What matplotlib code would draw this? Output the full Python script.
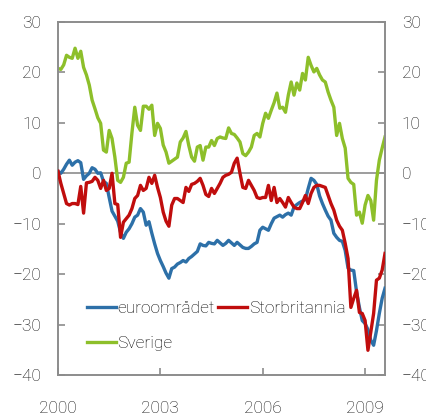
import numpy as np
import matplotlib.pyplot as plt

# monthly values, Jan 2000 onwards
euro = [0.4, 0.0, 0.8, 1.8, 2.6, 1.6, 2.2, 2.5, 2.1, -1.2,
        -0.5, 0.0, 1.1, 0.8, 0.0, 0.1, -1.6, -2.0, -4.8, -7.5,
        -8.5, -9.5, -11.7, -12.9, -11.7, -11.0, -10.0, -8.7, -8.3, -7.0,
        -7.7, -10.3, -9.6, -11.9, -14.0, -15.9, -17.3, -18.5, -19.8, -20.8,
        -18.9, -18.6, -18.0, -17.7, -17.3, -17.6, -16.9, -16.5, -16.0, -15.5,
        -14.0, -14.3, -14.4, -13.7, -13.9, -14.0, -13.3, -13.8, -14.3, -13.9,
        -13.3, -13.8, -14.3, -13.7, -14.2, -14.7, -14.9, -14.9, -14.5, -14.0,
        -13.7, -11.3, -10.7, -11.0, -11.3, -10.0, -8.9, -8.6, -8.3, -8.7,
        -8.2, -7.9, -8.3, -6.7, -6.2, -5.8, -5.5, -5.2, -3.0, -1.0,
        -1.4, -2.2, -4.5, -6.0, -7.3, -8.5, -9.3, -11.9, -12.7, -13.3,
        -13.5, -15.3, -18.8, -19.2, -19.3, -23.5, -26.6, -29.2, -29.8, -31.0,
        -33.1, -34.1, -31.2, -27.8, -24.8, -22.8]

uk = [0.4, -2.0, -4.0, -6.0, -6.3, -6.0, -6.0, -6.2, -2.6, -7.9,
      -1.9, -1.8, -1.6, -0.8, -1.4, -3.0, -1.4, -3.4, -3.0, 0.0,
      -6.0, -6.2, -12.7, -9.7, -9.0, -8.3, -7.0, -5.0, -4.4, -2.4,
      -3.4, -3.0, -0.8, -2.0, -0.4, -2.8, -4.8, -7.7, -9.5, -10.5,
      -6.3, -5.0, -5.0, -5.4, -5.8, -2.8, -3.6, -2.2, -2.0, -1.6,
      -1.0, -2.4, -4.2, -4.6, -3.0, -4.0, -3.0, -2.0, -0.8, -0.4,
      -0.2, 0.2, 2.0, 3.0, 0.0, -2.8, -3.0, -1.4, -2.4, -3.4,
      -4.8, -5.0, -4.8, -4.8, -2.4, -5.4, -2.8, -5.8, -5.0, -5.8,
      -6.7, -4.8, -5.8, -6.7, -7.0, -7.0, -5.8, -4.4, -6.0, -4.0,
      -2.8, -2.4, -2.4, -2.6, -2.8, -4.4, -6.0, -7.3, -9.3, -10.5,
      -11.3, -13.9, -16.9, -26.6, -24.8, -23.2, -27.6, -27.8, -29.2, -35.1,
      -31.5, -27.8, -21.2, -20.8, -19.2, -15.9]

sverige = [20.8, 20.6, 21.5, 23.4, 23.0, 22.8, 24.8, 22.8, 24.2, 21.0,
           19.5, 17.5, 14.5, 12.8, 11.0, 9.9, 4.6, 4.2, 8.5, 6.9,
           3.2, -1.4, -1.8, -0.8, 2.0, 2.2, 8.0, 13.1, 9.5, 8.5,
           13.3, 13.3, 12.7, 13.5, 7.5, 9.9, 8.9, 5.6, 4.2, 2.0,
           2.4, 2.8, 3.2, 6.2, 7.0, 8.3, 5.5, 3.2, 2.4, 5.2,
           5.5, 2.6, 5.2, 5.2, 6.5, 5.5, 6.9, 7.2, 7.0, 6.9,
           9.0, 7.9, 7.7, 7.0, 6.2, 3.9, 3.5, 4.2, 5.2, 7.5,
           7.9, 7.2, 9.9, 11.9, 10.9, 12.5, 14.0, 15.9, 12.9, 13.1,
           12.1, 15.5, 18.1, 15.5, 17.9, 16.5, 19.8, 18.5, 23.0, 21.4,
           20.1, 20.8, 19.5, 18.5, 18.1, 16.1, 14.5, 13.1, 7.5, 9.9,
           6.9, 5.0, -1.0, -1.8, -2.2, -8.3, -7.7, -9.9, -6.3, -4.4,
           -5.4, -9.3, -1.4, 2.6, 5.0, 7.2]

year_ticks = [2000, 2003, 2006, 2009]
y_ticks = [30, 20, 10, 0, -10, -20, -30, -40]

plt.rcParams['font.family'] = ['Roboto', 'DejaVu Sans']
plt.rcParams['font.weight'] = 'light'

fig = plt.figure(figsize=(4.27, 4.15), dpi=100)
ax = fig.add_axes([58 / 427, 40 / 415, 327 / 427, 353 / 415])

def months(vals):
    return 2000 + np.arange(len(vals)) / 12.0

ax.axhline(0, color='#8c8c8c', lw=1.2, zorder=1)
ax.plot(months(sverige), sverige, color='#8dbf2a', lw=2.4, label='Sverige', zorder=2)
ax.plot(months(euro), euro, color='#2d70a8', lw=2.4, label='euroområdet', zorder=3)
ax.plot(months(uk), uk, color='#c00d0d', lw=2.4, label='Storbritannia', zorder=4)

ax.set_xlim(2000, 2000 + 115 / 12.0)
ax.set_ylim(-40, 30)
ax.set_xticks(year_ticks)
ax.set_xticklabels([str(y) for y in year_ticks])
ax.set_yticks(y_ticks)

for s in ax.spines.values():
    s.set_color('#8c8c8c')
    s.set_linewidth(1.4)

ax.tick_params(axis='y', direction='in', length=5, width=1.2, color='#8c8c8c',
               labelsize=12.5, pad=12, left=True, right=True,
               labelleft=True, labelright=True, labelcolor='#111111')
ax.tick_params(axis='x', direction='in', length=5, width=1.2, color='#8c8c8c',
               labelsize=12.5, pad=19, labelcolor='#111111')

h, l = ax.get_legend_handles_labels()
order = [1, 0, 2]
leg = ax.legend([h[i] for i in order], [l[i] for i in order], ncol=2,
                loc='upper left', bbox_to_anchor=(0.089, 0.209), frameon=False,
                fontsize=12.5, handlelength=1.65, handletextpad=0.1,
                labelspacing=1.15, columnspacing=0.2, borderpad=0, borderaxespad=0)

fig.savefig('out.png', dpi=100)
